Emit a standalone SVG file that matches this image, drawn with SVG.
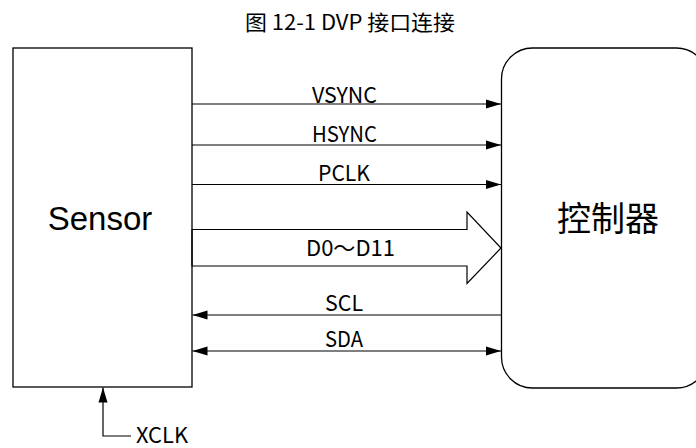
<svg xmlns="http://www.w3.org/2000/svg" width="696" height="448" viewBox="0 0 696 448">
  <style>
    .box { fill: #ffffff; stroke: #000000; stroke-width: 1.3; }
    .wire { fill: none; stroke: #000000; stroke-width: 1.2; }
    .lbl { font-family: "Noto Sans CJK SC", "DejaVu Sans", sans-serif; font-size: 22px; fill: #000000; }
    .title { font-family: "Noto Sans CJK SC", "DejaVu Sans", sans-serif; font-size: 21px; fill: #000000; }
    .big { font-size: 33px; fill: #000000; text-anchor: middle; }
  </style>
  <defs>
    <marker id="arr" markerUnits="userSpaceOnUse" markerWidth="16" markerHeight="10" refX="15" refY="5" orient="auto-start-reverse">
      <path d="M0,0.5 L15,5 L0,9.5 Z" fill="#000000"/>
    </marker>
  </defs>

  <text class="title" x="245" y="30" textLength="210" lengthAdjust="spacingAndGlyphs">图 12-1 DVP 接口连接</text>

  <g id="sensor">
    <rect class="box" x="13" y="48" width="179" height="339"/>
    <text class="big" x="100" y="230" style="font-family: 'Liberation Sans', Arial, sans-serif;">Sensor</text>
  </g>

  <g id="controller">
    <rect class="box" x="501.5" y="48" width="206" height="340" rx="31" ry="31"/>
    <text class="big" x="608" y="231" style="font-family: 'Noto Sans CJK SC', sans-serif; font-size: 34px;">控制器</text>
  </g>

  <g id="connectors">
    <line class="wire" x1="192" y1="104" x2="501" y2="104" marker-end="url(#arr)"/>
    <line class="wire" x1="192" y1="145" x2="501" y2="145" marker-end="url(#arr)"/>
    <line class="wire" x1="192" y1="184.5" x2="501" y2="184.5" marker-end="url(#arr)"/>
    <polygon class="wire" points="192,229.5 467,229.5 467,212 501,248 467,283.5 467,266 192,266"/>
    <line class="wire" x1="501" y1="315" x2="192.5" y2="315" marker-end="url(#arr)"/>
    <line class="wire" x1="192.5" y1="351" x2="501" y2="351" marker-start="url(#arr)" marker-end="url(#arr)"/>
    <polyline class="wire" points="131,436 103,436 103,387.5" marker-end="url(#arr)"/>
  </g>

  <g id="labels">
    <text class="lbl" x="312" y="102.5" textLength="65" lengthAdjust="spacingAndGlyphs">VSYNC</text>
    <text class="lbl" x="312" y="141.5" textLength="65" lengthAdjust="spacingAndGlyphs">HSYNC</text>
    <text class="lbl" x="318" y="181" textLength="52" lengthAdjust="spacingAndGlyphs">PCLK</text>
    <text class="lbl" x="306" y="256" textLength="89" lengthAdjust="spacingAndGlyphs">D0～D11</text>
    <text class="lbl" x="325" y="311" textLength="38" lengthAdjust="spacingAndGlyphs">SCL</text>
    <text class="lbl" x="325" y="347" textLength="38" lengthAdjust="spacingAndGlyphs">SDA</text>
    <text class="lbl" x="136" y="443" textLength="52" lengthAdjust="spacingAndGlyphs">XCLK</text>
  </g>
</svg>
